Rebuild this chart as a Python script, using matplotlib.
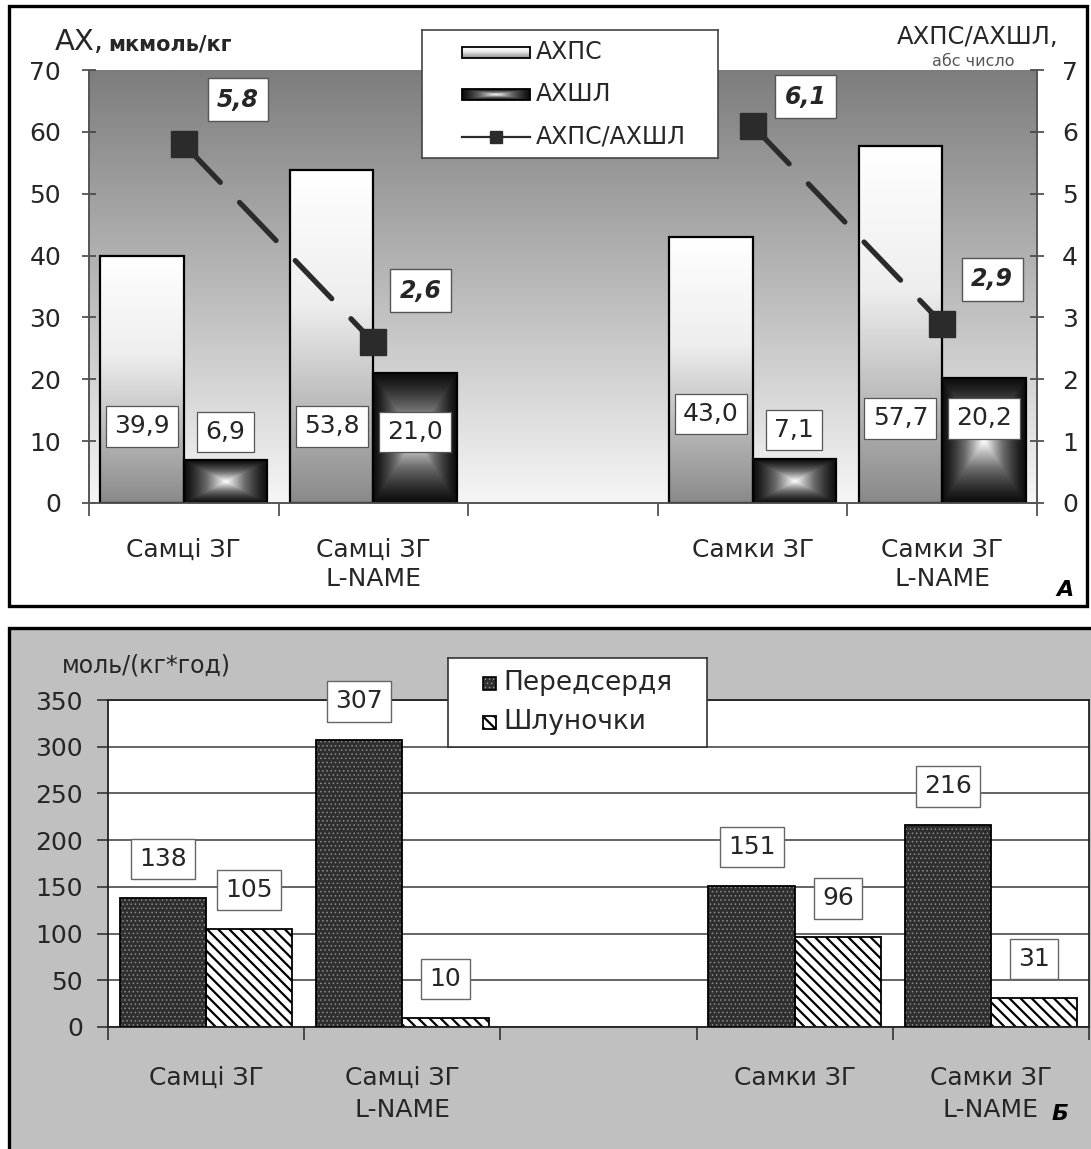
import numpy as np
import matplotlib
matplotlib.use("Agg")
import matplotlib.pyplot as plt
from matplotlib.patches import Rectangle
from matplotlib.colors import LinearSegmentedColormap

plt.rcParams['font.family'] = ['DejaVu Sans']
plt.rcParams['lines.scale_dashes'] = False
plt.rcParams['hatch.linewidth'] = 1.6

TXT = '#262626'

# ---------------- data ----------------
categories = ["Самці ЗГ", "Самці ЗГ\nL-NAME", "", "Самки ЗГ", "Самки ЗГ\nL-NAME"]
ahps_values = [39.9, 53.8, np.nan, 43.0, 57.7]        # АХПС, мкмоль/кг
ahshl_values = [6.9, 21.0, np.nan, 7.1, 20.2]         # АХШЛ, мкмоль/кг
ratio_values = [5.8, 2.6, np.nan, 6.1, 2.9]           # АХПС/АХШЛ
atria_values = [138, 307, np.nan, 151, 216]           # Передсердя, моль/(кг*год)
ventricle_values = [105, 10, np.nan, 96, 31]          # Шлуночки, моль/(кг*год)

top_yticks = [0, 10, 20, 30, 40, 50, 60, 70]
ratio_yticks = [0, 1, 2, 3, 4, 5, 6, 7]
bottom_yticks = [0, 50, 100, 150, 200, 250, 300, 350]

# ---------------- layout ----------------
ps_label_y = [12.4, 12.4, None, 14.4, 13.7]           # heights of АХПС value boxes
shl_label_y = [11.5, 11.5, None, 11.8, 13.7]          # heights of АХШЛ value boxes
ratio_label_offsets = [(39, 32), (34, 37), None, (38, 21), (36, 32)]  # points

W, H = 1091, 1149
fig = plt.figure(figsize=(W / 100, H / 100), dpi=100)
fig.patch.set_facecolor('white')


def box(l, t, r, b):
    return [l / W, 1 - b / H, (r - l) / W, (b - t) / H]


def fmt1(v):
    return f"{v:.1f}".replace('.', ',')


# panel frames
fig.add_artist(Rectangle((9 / W, 1 - 606 / H), (1087 - 9) / W, (606 - 6) / H,
                         transform=fig.transFigure, fill=False, ec='black',
                         lw=2.4, zorder=-1))
fig.add_artist(Rectangle((9 / W, -0.01), 1.0, 1 - 628 / H + 0.01,
                         transform=fig.transFigure, fc='#c0c0c0', ec='black',
                         lw=2.4, zorder=-1))

x = np.arange(len(categories))
w = 0.44

# ---------------- panel A ----------------
ax1 = fig.add_axes(box(89, 70, 1037, 503))
ax1.patch.set_visible(False)
bg_cmap = LinearSegmentedColormap.from_list('bg', ['#7d7d7d', '#f6f6f6'])
ax1.imshow(np.linspace(0, 1, 256)[:, None], cmap=bg_cmap, extent=[0, 1, 0, 1],
           transform=ax1.transAxes, aspect='auto', zorder=0,
           interpolation='bilinear')

ps_cmap = LinearSegmentedColormap.from_list(
    'ps', [(0, '#ffffff'), (0.4, '#eeeeee'), (1, '#8a8a8a')])
shl_cmap = LinearSegmentedColormap.from_list(
    'shl', [(0, '#0e0e0e'), (0.45, '#6a6a6a'), (1, '#ffffff')])
vert = np.linspace(0, 1, 200)[:, None]
u = np.abs(np.linspace(-1, 1, 200))
rect_grad = (1 - np.maximum(u[None, :], u[:, None])) ** 1.3

ps_bars = ax1.bar(x - w / 2, ahps_values, w, facecolor='none',
                  edgecolor='black', lw=1.6, zorder=3)
shl_bars = ax1.bar(x + w / 2, ahshl_values, w, facecolor='none',
                   edgecolor='black', lw=1.6, zorder=3)
for bars, img, cmap in ((ps_bars, vert, ps_cmap), (shl_bars, rect_grad, shl_cmap)):
    for bar in bars:
        h = bar.get_height()
        if not np.isfinite(h):
            continue
        x0 = bar.get_x()
        ax1.imshow(img, cmap=cmap, extent=[x0, x0 + bar.get_width(), 0, h],
                   aspect='auto', zorder=2, interpolation='bilinear')

for bars, vals, ys in ((ps_bars, ahps_values, ps_label_y),
                       (shl_bars, ahshl_values, shl_label_y)):
    for bar, v, yl in zip(bars, vals, ys):
        if not np.isfinite(v):
            continue
        ax1.text(bar.get_x() + bar.get_width() / 2, yl, fmt1(v),
                 ha='center', va='center', fontsize=18, color=TXT, zorder=4,
                 bbox=dict(boxstyle='square,pad=0.33', fc='white', ec='#555',
                           lw=0.9))

ax1.set_xlim(-0.5, len(categories) - 0.5)
ax1.set_ylim(0, 70)
ax1.set_yticks(top_yticks)
ax1.set_xticks(x, categories)
for t in ax1.get_xticklabels():
    t.set_linespacing(1.3)
ax1.set_xticks(np.arange(len(categories) + 1) - 0.5, minor=True)
ax1.tick_params(axis='y', direction='inout', length=10, width=1.2, color='#444',
                labelsize=18, labelcolor=TXT, pad=15)
ax1.tick_params(axis='x', which='major', length=0, pad=25, labelsize=18,
                labelcolor=TXT)
ax1.tick_params(axis='x', which='minor', length=9, direction='out', width=1.2,
                color='#444')
ax1.spines['top'].set_visible(False)
for s in ('left', 'right', 'bottom'):
    ax1.spines[s].set_color('#555')
    ax1.spines[s].set_linewidth(1.2)

ax2 = ax1.twinx()
ax2.set_ylim(0, 7)
ax2.set_yticks(ratio_yticks)
ax2.plot(x, ratio_values, color='#2b2b2b', lw=3.8, ls=(0, (38, 20)),
         dash_capstyle='round', marker='s', ms=19, mfc='#2b2b2b',
         mec='#2b2b2b', zorder=5)
for xi, r, off in zip(x, ratio_values, ratio_label_offsets):
    if not np.isfinite(r):
        continue
    ax2.annotate(fmt1(r), (xi, r), xytext=off, textcoords='offset points',
                 ha='center', va='center', fontsize=17, fontweight='bold',
                 fontstyle='italic', color=TXT, zorder=6,
                 bbox=dict(boxstyle='square,pad=0.4', fc='white', ec='#555',
                           lw=1.0))
ax2.tick_params(axis='y', direction='inout', length=10, width=1.2, color='#444',
                labelsize=18, labelcolor=TXT, pad=13)
ax2.spines['top'].set_visible(False)
for s in ('left', 'right', 'bottom'):
    ax2.spines[s].set_color('#555')
    ax2.spines[s].set_linewidth(1.2)

fig.text(55 / W, 1 - 50 / H, "АХ,", fontsize=21, color=TXT, va='baseline')
fig.text(108 / W, 1 - 50 / H, "мкмоль/кг", fontsize=15, fontweight='bold',
         color=TXT, va='baseline')
fig.text(1058 / W, 1 - 44 / H, "АХПС/АХШЛ,", fontsize=17.5, color=TXT,
         ha='right', va='baseline')
fig.text(973 / W, 1 - 66 / H, "абс число", fontsize=11.5, color='#555',
         ha='center', va='baseline')
fig.text(1065 / W, 1 - 590 / H, "А", fontsize=16, fontweight='bold',
         fontstyle='italic', color='black', ha='center', va='center')

# legend of panel A
lax = fig.add_axes(box(422, 30, 718, 158))
lax.set_zorder(6)
lax.imshow(vert, cmap=ps_cmap, extent=[40, 108, 28, 17], aspect='auto',
           interpolation='bilinear')
lax.add_patch(Rectangle((40, 17), 68, 11, fill=False, ec='black', lw=1.3))
lax.imshow(rect_grad, cmap=shl_cmap, extent=[40, 108, 70, 59], aspect='auto',
           interpolation='bilinear')
lax.add_patch(Rectangle((40, 59), 68, 11, fill=False, ec='black', lw=1.3))
lax.plot([40, 108], [107, 107], color='#2b2b2b', lw=1.6)
lax.plot([74], [107], marker='s', ms=9, color='#2b2b2b')
for yy, label in ((22, "АХПС"), (64, "АХШЛ"), (107, "АХПС/АХШЛ")):
    lax.text(114, yy, label, va='center', ha='left', fontsize=17, color=TXT)
lax.set_xlim(0, 296)
lax.set_ylim(128, 0)
lax.set_xticks([])
lax.set_yticks([])
for s in lax.spines.values():
    s.set_color('#444')
    s.set_linewidth(1.2)

# ---------------- panel Б ----------------
ax3 = fig.add_axes(box(108, 700, 1089, 1027))
ax3.set_facecolor('white')
ax3.set_axisbelow(True)
ax3.grid(axis='y', color='#3a3a3a', lw=1.1)

atria_style = dict(facecolor='#2f2f2f', edgecolor='#8c8c8c', hatch='....', lw=0)
vent_style = dict(facecolor='white', edgecolor='black', hatch='\\\\\\', lw=1.3)

a_fill = ax3.bar(x - w / 2, atria_values, w, zorder=2, **atria_style)
for p in a_fill:
    if hasattr(p, 'set_hatch_linewidth'):
        p.set_hatch_linewidth(0.6)
ax3.bar(x - w / 2, atria_values, w, fill=False, edgecolor='black', lw=1.3,
        zorder=3)
v_bars = ax3.bar(x + w / 2, ventricle_values, w, zorder=2, **vent_style)

for bars, vals in ((a_fill, atria_values), (v_bars, ventricle_values)):
    for bar, v in zip(bars, vals):
        if not np.isfinite(v):
            continue
        ax3.annotate(f"{v:.0f}", (bar.get_x() + bar.get_width() / 2, v),
                     xytext=(0, 28), textcoords='offset points', ha='center',
                     va='center', fontsize=18, color=TXT, zorder=4,
                     bbox=dict(boxstyle='square,pad=0.33', fc='white', ec='#666',
                               lw=1.0))

ax3.set_xlim(-0.5, len(categories) - 0.5)
ax3.set_ylim(0, 350)
ax3.set_yticks(bottom_yticks)
ax3.set_xticks(x, categories)
for t in ax3.get_xticklabels():
    t.set_linespacing(1.45)
ax3.set_xticks(np.arange(len(categories) + 1) - 0.5, minor=True)
ax3.tick_params(axis='y', length=8, direction='out', width=1.2, color='#333',
                labelsize=18, labelcolor=TXT, pad=10)
ax3.tick_params(axis='x', which='major', length=0, pad=28, labelsize=18,
                labelcolor=TXT)
ax3.tick_params(axis='x', which='minor', length=9, direction='out', width=1.2,
                color='#333')
for s in ax3.spines.values():
    s.set_color('#222')
    s.set_linewidth(1.3)

# legend of panel Б
lax2 = fig.add_axes(box(448, 658, 707, 747))
lax2.set_zorder(6)
sw1 = Rectangle((35, 19), 13, 13, **atria_style)
if hasattr(sw1, 'set_hatch_linewidth'):
    sw1.set_hatch_linewidth(0.6)
lax2.add_patch(sw1)
lax2.add_patch(Rectangle((35, 19), 13, 13, fill=False, ec='black', lw=1.2))
lax2.add_patch(Rectangle((35, 58), 13, 13, **vent_style))
for yy, label in ((25, "Передсердя"), (64, "Шлуночки")):
    lax2.text(55, yy, label, va='center', ha='left', fontsize=19, color=TXT)
lax2.set_xlim(0, 259)
lax2.set_ylim(89, 0)
lax2.set_xticks([])
lax2.set_yticks([])
for s in lax2.spines.values():
    s.set_color('#333')
    s.set_linewidth(1.2)

fig.text(62 / W, 1 - 665 / H, "моль/(кг*год)", fontsize=17, color=TXT,
         ha='left', va='center')
fig.text(1060 / W, 1 - 1114 / H, "Б", fontsize=16, fontweight='bold',
         fontstyle='italic', color='black', ha='center', va='center')

fig.savefig('out.png', dpi=100)
